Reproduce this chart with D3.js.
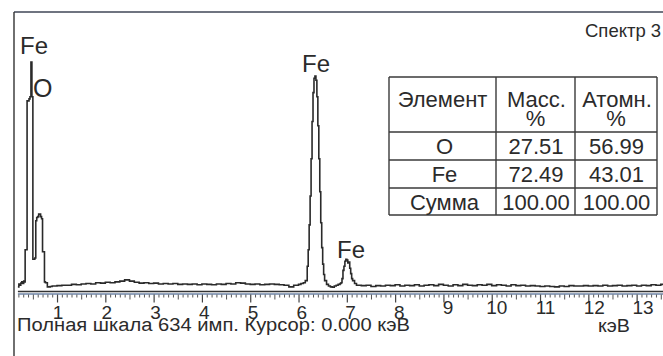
<!DOCTYPE html>
<html>
<head>
<meta charset="utf-8">
<script src="https://cdn.jsdelivr.net/npm/d3@7"></script>
<style>
body{margin:0;background:#fff;}
svg text{font-family:"Liberation Sans",Arial,sans-serif;fill:#2b2b2b;}
</style>
</head>
<body>
<svg></svg>
<script>
// spectrum: energy (keV) and counts
var spectrumKeV = [0.19,0.21,0.23,0.25,0.27,0.29,0.31,0.32,0.34,0.36,0.38,0.40,0.42,0.44,0.46,0.48,0.50,0.52,0.54,0.56,0.58,0.60,0.62,0.64,0.66,0.68,0.70,0.72,0.74,0.76,0.78,0.80,0.82,0.86,
	0.9,1.0,1.1,1.2,1.3,1.4,1.5,1.6,1.7,1.8,1.9,2.0,2.1,2.2,2.3,2.4,2.5,2.6,2.7,2.8,2.9,3.0,3.1,3.2,3.3,3.4,3.5,3.6,3.7,3.8,3.9,4.0,4.1,4.2,4.3,4.4,4.5,4.6,4.7,4.8,4.9,5.0,5.1,5.2,5.3,5.4,5.5,5.6,5.7,5.8,5.9,6.0,6.05,
	6.10,6.14,6.18,6.20,6.22,6.24,6.26,6.28,6.30,6.32,6.34,6.36,6.38,6.40,6.42,6.44,6.46,6.48,6.50,6.52,6.54,6.58,6.62,6.66,6.70,6.74,6.78,6.82,
	6.86,6.88,6.90,6.92,6.94,6.96,6.98,7.00,7.02,7.04,7.06,7.08,7.10,7.12,7.16,7.20,
	7.3,7.4,7.5,7.6,7.7,7.8,7.9,8.0,8.1,8.2,8.3,8.4,8.5,8.6,8.7,8.8,8.9,9.0,9.1,9.2,9.3,9.4,9.5,9.6,9.7,9.8,9.9,10.0,10.1,10.2,10.3,10.4,10.5,10.6,10.7,10.8,10.9,11.0,11.1,11.2,11.3,11.4,11.5,11.6,11.7,11.8,11.9,12.0,12.1,12.2,12.3,12.4,12.5,12.6,12.7,12.8,12.9,13.0,13.1,13.2,13.3,13.4,13.5,13.55];
var spectrumCounts = [10,17,14,19,22,18,24,22,100,100,460,460,465,470,554,470,77,77,80,170,178,180,186,186,180,175,95,95,22,20,20,10,10,11,
	12,13,14,14,16,15,17,18,17,20,19,21,20,22,24,27,24,21,19,20,18,19,17,18,17,18,16,17,16,17,15,17,16,15,17,16,18,17,20,19,17,16,17,15,16,17,16,15,14,10,14,16,18,
	20,25,60,100,160,230,320,410,480,515,520,510,470,400,320,240,165,105,65,40,25,16,12,10,9,12,14,16,
	18,20,30,50,60,72,77,75,68,70,55,42,30,25,18,14,
	13,14,11,13,12,14,13,15,12,14,13,15,12,14,15,13,16,14,12,15,13,16,14,13,15,14,16,13,15,14,12,15,13,14,12,13,12,11,12,11,10,12,11,13,12,12,13,12,13,12,14,12,13,14,12,13,14,12,14,13,15,14,16,16];

var majorTicks = [1,2,3,4,5,6,7,8,9,10,11,12,13];
var fullScale = 634;

var peakLabels = ["Fe","O","Fe","Fe"];

var tableHead1 = ["Элемент","Масс.","Атомн."];
var tableHead2 = ["","%","%"];
var elements = ["O","Fe","Сумма"];
var massPct = ["27.51","72.49","100.00"];
var atomPct = ["56.99","43.01","100.00"];

var width = 663, height = 356;
var svg = d3.select("svg").attr("width", width).attr("height", height);

// frame
svg.append("line").attr("x1",14).attr("y1",12).attr("x2",663).attr("y2",12)
	.style("stroke","#3f4656").style("stroke-width",1.6);
svg.append("line").attr("x1",14).attr("y1",12).attr("x2",14).attr("y2",356)
	.style("stroke","#333").style("stroke-width",1.4);

var x = d3.scaleLinear().domain([0.19,13.55]).range([17.9,663.2]);
var y = d3.scaleLinear().domain([0,fullScale]).range([291,29]);

// axis base lines
svg.append("line").attr("x1",x(0.19)).attr("x2",x(13.55)).attr("y1",291.5).attr("y2",291.5)
	.style("stroke","#333").style("stroke-width",1.3);
svg.append("line").attr("x1",x(0.19)).attr("x2",x(13.55)).attr("y1",294).attr("y2",294)
	.style("stroke","#6f86a8").style("stroke-width",1.5);

var minor = d3.range(2,136).map(function(d){return d/10;}).filter(function(d){return d%1 !== 0;});
var gMinor = svg.append("g").attr("transform","translate(0,294.5)")
	.call(d3.axisBottom(x).tickValues(minor).tickSize(3).tickFormat(""));
gMinor.select(".domain").remove();
gMinor.selectAll("line").style("stroke","#555").style("stroke-width",1)
	.attr("y2",function(d){return Math.abs(d*10%10-5)<0.01 ? 5 : 3;});

var gMajor = svg.append("g").attr("transform","translate(0,294.5)")
	.call(d3.axisBottom(x).tickValues(majorTicks).tickSize(8).tickPadding(0).tickFormat(d3.format("d")));
gMajor.select(".domain").remove();
gMajor.selectAll("line").style("stroke","#444").style("stroke-width",1.2);
gMajor.selectAll("text")
	.attr("x",function(d){return d*0.45;})
	.attr("y",function(d){return d <= 8 ? 24 : 19.5;})
	.attr("dy",0)
	.style("font-size","19px")
	.style("font-family","Liberation Sans, Arial, sans-serif")
	.style("fill","#2b2b2b");

// spectrum
var pts = spectrumKeV.map(function(e,i){return [e, spectrumCounts[i]];});
var line = d3.line().x(function(d){return x(d[0]);}).y(function(d){return y(d[1]);}).curve(d3.curveStepAfter);
svg.append("path").datum(pts).attr("d",line)
	.style("fill","none").style("stroke","#2a2a2a").style("stroke-width",1.6);

// peak labels
var labelPos = [[20,54],[33,97],[302,72],[337,258]];
svg.selectAll("text.peak").data(peakLabels).enter().append("text")
	.attr("class","peak")
	.attr("x",function(d,i){return labelPos[i][0];})
	.attr("y",function(d,i){return labelPos[i][1];})
	.style("font-size",function(d){return d==="O" ? "25px" : "24px";})
	.text(function(d){return d;});

svg.append("text").attr("x",585).attr("y",37).style("font-size","18.5px").text("Спектр 3");

// table
var cols = [389,496,575,657];
var rows = [77,132,160,188,215];
var tg = svg.append("g");
cols.forEach(function(c){
	tg.append("line").attr("x1",c).attr("x2",c).attr("y1",rows[0]).attr("y2",rows[4])
		.style("stroke","#3a3a3a").style("stroke-width",1.4);
});
rows.forEach(function(r){
	tg.append("line").attr("x1",cols[0]).attr("x2",cols[3]).attr("y1",r).attr("y2",r)
		.style("stroke","#3a3a3a").style("stroke-width",1.4);
});
function cx(i){return (cols[i]+cols[i+1])/2;}
tableHead1.forEach(function(t,i){
	tg.append("text").attr("x",cx(i)+(i>0?1:0)).attr("y",107).attr("text-anchor","middle").style("font-size","22px").text(t);
});
tableHead2.forEach(function(t,i){
	tg.append("text").attr("x",cx(i)).attr("y",126).attr("text-anchor","middle").style("font-size","22px").text(t);
});
var rowBase = [153.5,181.5,210];
elements.forEach(function(el,i){
	var vals = [el, massPct[i], atomPct[i]];
	vals.forEach(function(v,j){
		tg.append("text").attr("x",cx(j)+(j>0?0.5:2)).attr("y",rowBase[i]).attr("text-anchor","middle")
			.style("font-size","22px").text(v);
	});
});

svg.append("text").attr("x",17).attr("y",331).style("font-size","18px")
	.attr("textLength",393).attr("lengthAdjust","spacingAndGlyphs")
	.text("Полная шкала " + fullScale + " имп. Курсор: 0.000 кэВ");
svg.append("text").attr("x",598).attr("y",332).style("font-size","18px")
	.attr("textLength",32).attr("lengthAdjust","spacingAndGlyphs").text("кэВ");
</script>
</body>
</html>
